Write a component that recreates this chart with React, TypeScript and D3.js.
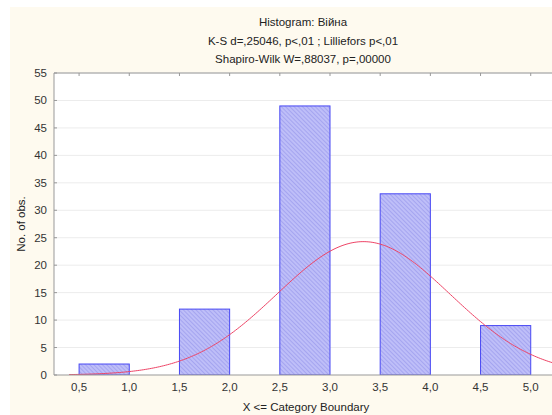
import * as d3 from "d3";

const W = 552;
const H = 415;

// bins (upper boundary labels) and observed counts
const binStarts = [0.5, 1.5, 2.5, 3.5, 4.5];
const binEnds = [1.0, 2.0, 3.0, 4.0, 5.0];
const counts = [2, 12, 49, 33, 9];
const binValues = [1, 2, 3, 4, 5];
const xTicks = [0.5, 1.0, 1.5, 2.0, 2.5, 3.0, 3.5, 4.0, 4.5, 5.0];
const yTicks = [0, 5, 10, 15, 20, 25, 30, 35, 40, 45, 50, 55];
const titleLines = [
  "Histogram: Війна",
  "K-S d=,25046, p<,01 ; Lilliefors p<,01",
  "Shapiro-Wilk W=,88037, p=,00000",
];
const curveBinWidth = 0.5;
const curveFrom = 0.4;
const curveTo = 5.75;

const fmt = (v: number) => v.toFixed(1).replace(".", ",");

export default function App() {
  const margin = { top: 73, left: 54, bottom: 375 };
  const x = d3.scaleLinear().domain([0.25, 5.75]).range([margin.left, margin.left + 552]);
  const y = d3.scaleLinear().domain([0, 55]).range([margin.bottom, margin.top]);

  // fitted normal curve from the observed counts
  const n = d3.sum(counts);
  const mean = d3.sum(counts.map((c, i) => c * binValues[i])) / n;
  const sd = Math.sqrt(
    d3.sum(counts.map((c, i) => c * (binValues[i] - mean) ** 2)) / (n - 1)
  );
  const curveXs = d3.range(curveFrom, curveTo, 0.02);
  const normal = (v: number) =>
    (n * curveBinWidth * Math.exp(-0.5 * ((v - mean) / sd) ** 2)) / (sd * Math.sqrt(2 * Math.PI));
  const line = d3
    .line<number>()
    .x((v) => x(v))
    .y((v) => y(normal(v)));

  const font = "'Liberation Sans', Arial, sans-serif";
  const plotRight = W + 10;

  return (
    <div style={{ position: "fixed", left: 0, top: 0 }}>
      <svg width={W} height={H} style={{ display: "block", fontFamily: font }}>
        <defs>
          <pattern id="hatch" width={3} height={3} patternUnits="userSpaceOnUse" patternTransform="rotate(-45)">
            <rect width={3} height={3} fill="#bebef8" />
            <line x1={0} y1={0} x2={0} y2={3} stroke="#8c8ce8" strokeWidth={1} />
          </pattern>
          <clipPath id="plot">
            <rect x={margin.left} y={margin.top} width={plotRight - margin.left} height={margin.bottom - margin.top} />
          </clipPath>
        </defs>
        <rect width={W} height={H} fill="#ffffff" />
        <rect x={10} y={7} width={W - 10} height={H - 7} fill="#fefaef" />
        <rect x={margin.left} y={margin.top} width={plotRight - margin.left} height={margin.bottom - margin.top} fill="#ffffff" />

        {titleLines.map((t, i) => (
          <text key={t} x={303} y={26 + i * 18.5} textAnchor="middle" fontSize={11.5} fill="#222">
            {t}
          </text>
        ))}

        {yTicks.slice(1).map((t) => (
          <line key={t} x1={margin.left} x2={plotRight} y1={y(t)} y2={y(t)} stroke="#ececec" strokeWidth={1} />
        ))}

        <g clipPath="url(#plot)">
          {counts.map((c, i) => (
            <rect
              key={i}
              x={x(binStarts[i])}
              y={y(c)}
              width={x(binEnds[i]) - x(binStarts[i])}
              height={y(0) - y(c)}
              fill="url(#hatch)"
              stroke="#4848f4"
              strokeWidth={1}
            />
          ))}
          <path d={line(curveXs) ?? ""} fill="none" stroke="#ee4466" strokeWidth={1} />
        </g>

        <line x1={margin.left} x2={margin.left} y1={margin.top} y2={margin.bottom} stroke="#999" />
        <line x1={margin.left} x2={plotRight} y1={margin.top} y2={margin.top} stroke="#999" />
        <line x1={margin.left} x2={plotRight} y1={margin.bottom} y2={margin.bottom} stroke="#999" />

        {yTicks.map((t) => (
          <g key={t}>
            <line x1={margin.left} x2={margin.left + 3} y1={y(t)} y2={y(t)} stroke="#999" />
            <text x={47} y={y(t) + 4} textAnchor="end" fontSize={11.5} fill="#333">
              {t}
            </text>
          </g>
        ))}

        {xTicks.map((t) => (
          <g key={t}>
            <line x1={x(t)} x2={x(t)} y1={margin.top} y2={margin.top + 3} stroke="#999" />
            <text x={x(t)} y={391} textAnchor="middle" fontSize={11.5} fill="#333">
              {fmt(t)}
            </text>
          </g>
        ))}

        <text x={306} y={411} textAnchor="middle" fontSize={11.5} fill="#222">
          X &lt;= Category Boundary
        </text>
        <text
          transform={`translate(25,${(margin.top + margin.bottom) / 2}) rotate(-90)`}
          textAnchor="middle"
          fontSize={11.5}
          fill="#222"
        >
          No. of obs.
        </text>
      </svg>
    </div>
  );
}
